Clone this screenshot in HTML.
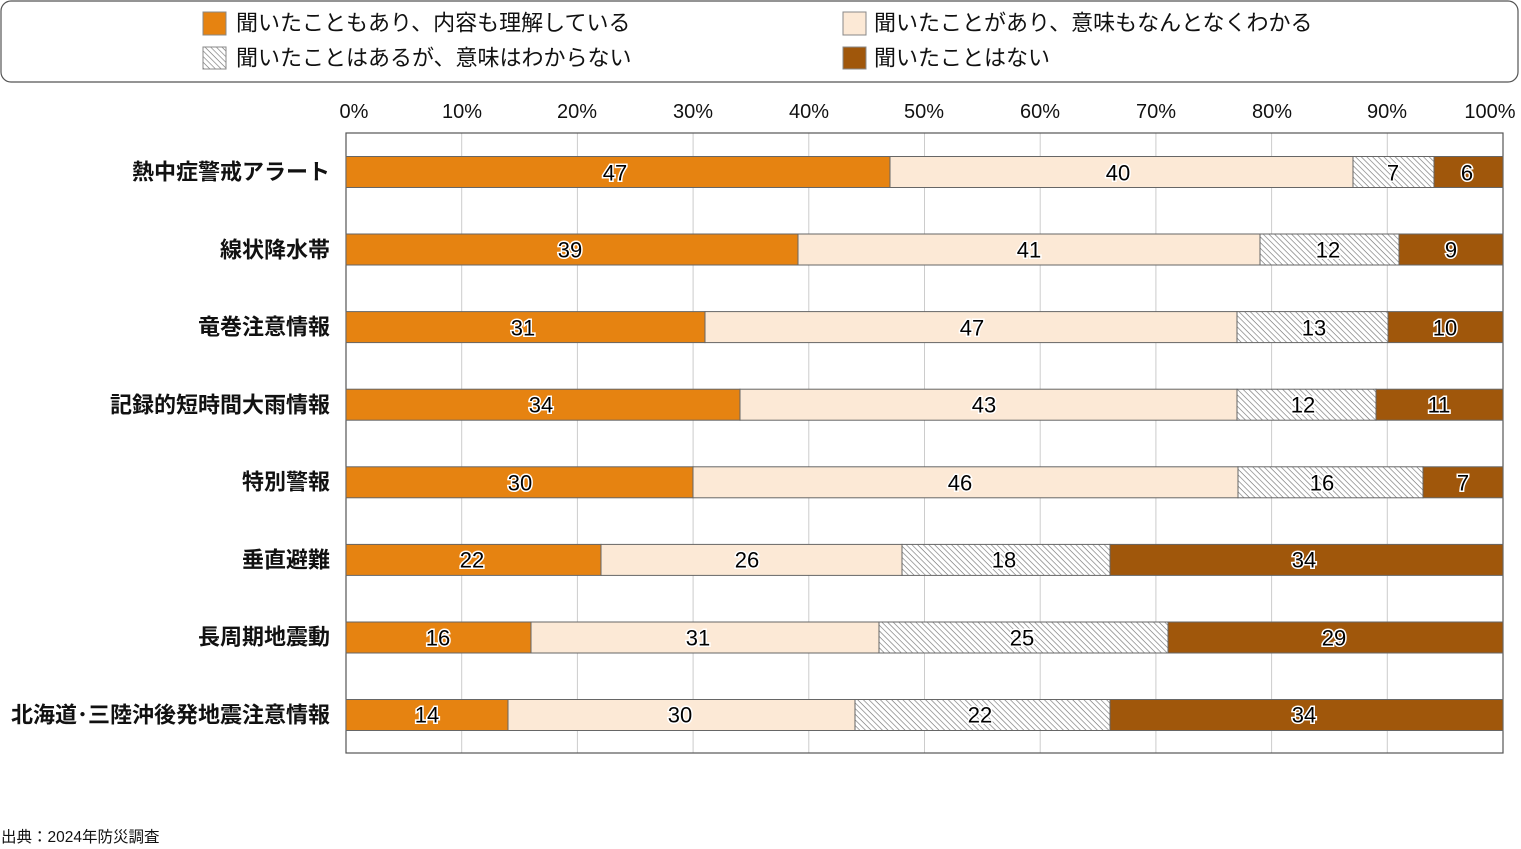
<!DOCTYPE html>
<html><head><meta charset="utf-8"><style>
html,body{margin:0;padding:0;background:#fff;}
svg{display:block;font-family:"Liberation Sans","Noto Sans CJK JP",sans-serif;}
.v{font-size:22px;fill:#000;stroke:#fff;stroke-width:3px;paint-order:stroke;text-anchor:middle;dominant-baseline:central;}
.c{font-size:22px;font-weight:bold;text-anchor:end;dominant-baseline:central;fill:#111;}
.t{font-size:20px;text-anchor:middle;fill:#111;}
.l{font-size:22px;fill:#111;dominant-baseline:central;}
</style></head><body>
<svg width="1521" height="849" viewBox="0 0 1521 849" xmlns="http://www.w3.org/2000/svg">
<defs>
<pattern id="h" patternUnits="userSpaceOnUse" width="4" height="4" patternTransform="rotate(45)">
<rect width="4" height="4" fill="#fff"/><line x1="0" y1="0" x2="4" y2="0" stroke="#777" stroke-width="1.3"/>
</pattern>
</defs>
<rect x="1" y="1" width="1517" height="81" rx="10" fill="#fff" stroke="#555" stroke-width="1.2"/>
<rect x="203" y="12" width="23" height="23" fill="#E68311" stroke="#888"/>
<text class="l" x="236" y="23">聞いたこともあり、内容も理解している</text>
<rect x="203" y="47" width="23" height="22" fill="url(#h)" stroke="#888"/>
<text class="l" x="236" y="58">聞いたことはあるが、意味はわからない</text>
<rect x="843" y="12" width="23" height="23" fill="#FCE9D6" stroke="#888"/>
<text class="l" x="874" y="23">聞いたことがあり、意味もなんとなくわかる</text>
<rect x="843" y="47" width="23" height="22" fill="#A0570B" stroke="#888"/>
<text class="l" x="874" y="58">聞いたことはない</text>
<g id="grid" stroke="#ccc" stroke-width="1">
<line x1="461.7" y1="133" x2="461.7" y2="753"/><line x1="577.4" y1="133" x2="577.4" y2="753"/>
<line x1="693.1" y1="133" x2="693.1" y2="753"/><line x1="808.8" y1="133" x2="808.8" y2="753"/>
<line x1="924.5" y1="133" x2="924.5" y2="753"/><line x1="1040.2" y1="133" x2="1040.2" y2="753"/>
<line x1="1155.9" y1="133" x2="1155.9" y2="753"/><line x1="1271.6" y1="133" x2="1271.6" y2="753"/>
<line x1="1387.3" y1="133" x2="1387.3" y2="753"/>
</g>
<rect x="346" y="133" width="1157" height="620" fill="none" stroke="#555" stroke-width="1.2"/>
<g class="t">
<text x="354" y="118">0%</text><text x="462" y="118">10%</text><text x="577" y="118">20%</text>
<text x="693" y="118">30%</text><text x="809" y="118">40%</text><text x="924" y="118">50%</text>
<text x="1040" y="118">60%</text><text x="1156" y="118">70%</text><text x="1272" y="118">80%</text>
<text x="1387" y="118">90%</text><text x="1490" y="118">100%</text>
</g>
<g stroke="#666" stroke-width="1">
<rect x="346" y="156.5" width="544" height="31" fill="#E68311"/><rect x="890" y="156.5" width="463" height="31" fill="#FCE9D6"/><rect x="1353" y="156.5" width="81" height="31" fill="url(#h)"/><rect x="1434" y="156.5" width="69" height="31" fill="#A0570B"/>
<rect x="346" y="234" width="452" height="31" fill="#E68311"/><rect x="798" y="234" width="462" height="31" fill="#FCE9D6"/><rect x="1260" y="234" width="139" height="31" fill="url(#h)"/><rect x="1399" y="234" width="104" height="31" fill="#A0570B"/>
<rect x="346" y="311.6" width="359" height="31" fill="#E68311"/><rect x="705" y="311.6" width="532" height="31" fill="#FCE9D6"/><rect x="1237" y="311.6" width="151" height="31" fill="url(#h)"/><rect x="1388" y="311.6" width="115" height="31" fill="#A0570B"/>
<rect x="346" y="389.2" width="394" height="31" fill="#E68311"/><rect x="740" y="389.2" width="497" height="31" fill="#FCE9D6"/><rect x="1237" y="389.2" width="139" height="31" fill="url(#h)"/><rect x="1376" y="389.2" width="127" height="31" fill="#A0570B"/>
<rect x="346" y="466.8" width="347" height="31" fill="#E68311"/><rect x="693" y="466.8" width="545" height="31" fill="#FCE9D6"/><rect x="1238" y="466.8" width="185" height="31" fill="url(#h)"/><rect x="1423" y="466.8" width="80" height="31" fill="#A0570B"/>
<rect x="346" y="544.4" width="255" height="31" fill="#E68311"/><rect x="601" y="544.4" width="301" height="31" fill="#FCE9D6"/><rect x="902" y="544.4" width="208" height="31" fill="url(#h)"/><rect x="1110" y="544.4" width="393" height="31" fill="#A0570B"/>
<rect x="346" y="622" width="185" height="31" fill="#E68311"/><rect x="531" y="622" width="348" height="31" fill="#FCE9D6"/><rect x="879" y="622" width="289" height="31" fill="url(#h)"/><rect x="1168" y="622" width="335" height="31" fill="#A0570B"/>
<rect x="346" y="699.5" width="162" height="31" fill="#E68311"/><rect x="508" y="699.5" width="347" height="31" fill="#FCE9D6"/><rect x="855" y="699.5" width="255" height="31" fill="url(#h)"/><rect x="1110" y="699.5" width="393" height="31" fill="#A0570B"/>
</g>
<g class="v">
<text x="615" y="173">47</text><text x="1118" y="173">40</text><text x="1393" y="173">7</text><text x="1467" y="173">6</text>
<text x="570" y="250">39</text><text x="1029" y="250">41</text><text x="1328" y="250">12</text><text x="1451" y="250">9</text>
<text x="523" y="328">31</text><text x="972" y="328">47</text><text x="1314" y="328">13</text><text x="1445" y="328">10</text>
<text x="541" y="405">34</text><text x="984" y="405">43</text><text x="1303" y="405">12</text><text x="1439" y="405">11</text>
<text x="520" y="483">30</text><text x="960" y="483">46</text><text x="1322" y="483">16</text><text x="1463" y="483">7</text>
<text x="472" y="560">22</text><text x="747" y="560">26</text><text x="1004" y="560">18</text><text x="1304" y="560">34</text>
<text x="438" y="638">16</text><text x="698" y="638">31</text><text x="1022" y="638">25</text><text x="1334" y="638">29</text>
<text x="427" y="715">14</text><text x="680" y="715">30</text><text x="980" y="715">22</text><text x="1304" y="715">34</text>
</g>
<g class="c">
<text x="330" y="172">熱中症警戒アラート</text>
<text x="330" y="250">線状降水帯</text>
<text x="330" y="327">竜巻注意情報</text>
<text x="330" y="405">記録的短時間大雨情報</text>
<text x="330" y="482">特別警報</text>
<text x="330" y="560">垂直避難</text>
<text x="330" y="637">長周期地震動</text>
<text x="330" y="715">北海道･三陸沖後発地震注意情報</text>
</g>
<text x="1" y="842" font-size="15.5" fill="#111">出典：2024年防災調査</text>
</svg>
</body></html>
